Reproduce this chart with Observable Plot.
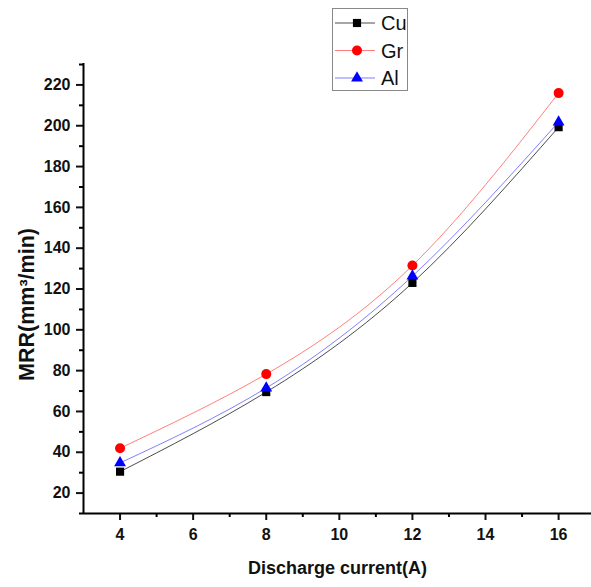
<!DOCTYPE html>
<html>
<head>
<meta charset="utf-8">
<script src="https://cdn.jsdelivr.net/npm/d3@7"></script>
<script src="https://cdn.jsdelivr.net/npm/@observablehq/plot@0.6"></script>
<style>
  body { margin: 0; background: #fff; }
  #wrap { position: relative; width: 591px; height: 587px; font-family: "Liberation Sans", Arial, sans-serif; }
  #legend { position: absolute; left: 332px; top: 8px; }
</style>
</head>
<body>
<div id="wrap"></div>
<script>
const current = [4, 8, 12, 16];
const cu = [30.5, 69.5, 123, 199.3];
const gr = [42, 78.3, 131.5, 216];
const al = [34.8, 71.5, 126.3, 201.8];
const xTicks = [4, 6, 8, 10, 12, 14, 16];
const xMinor = [5, 7, 9, 11, 13, 15];
const yTicks = [20, 40, 60, 80, 100, 120, 140, 160, 180, 200, 220];
const yMinor = [10, 30, 50, 70, 90, 110, 130, 150, 170, 190, 210, 230];
const seriesNames = ["Cu", "Gr", "Al"];
const seriesColors = ["#000000", "#ff0000", "#0000ff"];
const seriesSymbols = ["square", "circle", "triangle"];
const seriesR = [4.6, 5, 4.4];

const values = [cu, gr, al];
const data = [];
seriesNames.forEach((name, si) => {
  current.forEach((c, i) => data.push({series: name, x: c, y: values[si][i]}));
});

const font = "'Liberation Sans', Arial, sans-serif";

const chart = Plot.plot({
  width: 591,
  height: 587,
  marginLeft: 83,
  marginRight: 0,
  marginTop: 63,
  marginBottom: 74,
  style: {fontFamily: font, background: "#fff", overflow: "visible"},
  x: {domain: [3, 16.9]},
  y: {domain: [10, 230.5]},
  marks: [
    Plot.axisX({ticks: xTicks, tickSize: 7, tickPadding: 8, tickFormat: d => d, fontSize: 16, fontWeight: "bold", label: null, strokeWidth: 2, color: "#111"}),
    Plot.axisX({ticks: xMinor, tickSize: 4, text: null, label: null, strokeWidth: 2}),
    Plot.axisY({ticks: yTicks, tickSize: 7, tickPadding: 6, tickFormat: d => d, fontSize: 16, fontWeight: "bold", label: null, strokeWidth: 2, color: "#111"}),
    Plot.axisY({ticks: yMinor, tickSize: 4, text: null, label: null, strokeWidth: 2}),
    Plot.ruleX([3], {y1: 10, y2: 230.5, strokeWidth: 2}),
    Plot.ruleY([10], {strokeWidth: 2}),
    ...seriesNames.map((name, si) =>
      Plot.line(data.filter(d => d.series === name), {x: "x", y: "y", stroke: seriesColors[si], strokeWidth: 1, strokeOpacity: si === 0 ? 0.7 : 0.5, curve: "natural"})
    ),
    ...seriesNames.map((name, si) =>
      Plot.dot(data.filter(d => d.series === name), {x: "x", y: "y", fill: seriesColors[si], stroke: "none", symbol: () => seriesSymbols[si], r: seriesR[si]})
    ),
    Plot.text(["Discharge current(A)"], {frameAnchor: "bottom", dy: 60, fontSize: 18, fontWeight: "bold", fill: "#111", textAnchor: "middle"}),
    Plot.text(["MRR(mm³/min)"], {frameAnchor: "left", dx: -56, dy: 16, rotate: -90, fontSize: 21.5, fontWeight: "bold", fill: "#111", textAnchor: "middle"})
  ]
});

const wrap = document.getElementById("wrap");
wrap.appendChild(chart);

// Legend
const lg = d3.select(wrap).append("svg").attr("id", "legend").attr("width", 76).attr("height", 83);
lg.append("rect").attr("x", 0.5).attr("y", 0.5).attr("width", 75).attr("height", 82).attr("fill", "#fff").attr("stroke", "#888").attr("stroke-width", 1);
seriesNames.forEach((name, si) => {
  const cy = 15 + si * 27.5;
  lg.append("line").attr("x1", 3).attr("x2", 43).attr("y1", cy).attr("y2", cy)
    .attr("stroke", seriesColors[si]).attr("stroke-width", 1).attr("stroke-opacity", si === 0 ? 0.7 : 0.5);
  const sym = {square: d3.symbolSquare, circle: d3.symbolCircle, triangle: d3.symbolTriangle}[seriesSymbols[si]];
  lg.append("path").attr("transform", `translate(25,${cy})`)
    .attr("d", d3.symbol(sym, Math.PI * seriesR[si] * seriesR[si])())
    .attr("fill", seriesColors[si]);
  lg.append("text").attr("x", 49).attr("y", cy).attr("dy", "0.36em")
    .attr("font-family", font).attr("font-size", 20).attr("fill", "#111").text(name);
});
</script>
</body>
</html>
